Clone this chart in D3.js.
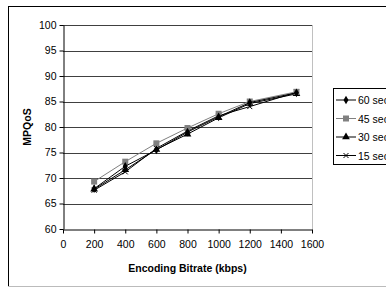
<!DOCTYPE html>
<html>
<head>
<meta charset="utf-8">
<script src="https://cdn.jsdelivr.net/npm/d3@7"></script>
<style>
  body { margin: 0; background: #fff; }
  svg { display: block; font-family: "Liberation Sans", Arial, sans-serif; }
</style>
</head>
<body>
<svg id="chart" width="386" height="289"></svg>
<script>
const bitrates = [200, 400, 600, 800, 1000, 1200, 1500];
const seriesNames = ["60 sec", "45 sec", "30 sec", "15 sec"];
const sec60 = [67.9, 72.3, 75.5, 79.0, 82.0, 84.8, 86.7];
const sec45 = [69.3, 73.2, 76.8, 79.8, 82.6, 85.0, 86.9];
const sec30 = [67.8, 71.6, 75.6, 78.6, 81.8, 84.6, 86.5];
const sec15 = [67.6, 71.2, 75.8, 79.2, 82.2, 84.0, 86.8];
const xTicks = [0, 200, 400, 600, 800, 1000, 1200, 1400, 1600];
const yTicks = [60, 65, 70, 75, 80, 85, 90, 95, 100];

const series = [
  {name: seriesNames[0], vals: sec60, color: "#000", marker: "diamond"},
  {name: seriesNames[1], vals: sec45, color: "#808080", marker: "square"},
  {name: seriesNames[2], vals: sec30, color: "#000", marker: "triangle"},
  {name: seriesNames[3], vals: sec15, color: "#000", marker: "cross"}
];

const svg = d3.select("#chart");
const L = 63, R = 312, T = 25, B = 229;

// outer chart border
svg.append("line").attr("x1", 8.5).attr("x2", 8.5).attr("y1", 6).attr("y2", 287).attr("stroke", "#000");
svg.append("line").attr("x1", 8).attr("x2", 386).attr("y1", 6.5).attr("y2", 6.5).attr("stroke", "#000");
svg.append("line").attr("x1", 8).attr("x2", 386).attr("y1", 286.5).attr("y2", 286.5).attr("stroke", "#bbb");

const x = d3.scaleLinear().domain([0, 1600]).range([L, R]);
const y = d3.scaleLinear().domain([60, 100]).range([B, T]);

// grid
svg.append("g").selectAll("line").data(yTicks.slice(1)).join("line")
  .attr("x1", L).attr("x2", R)
  .attr("y1", d => Math.round(y(d)) + 0.5).attr("y2", d => Math.round(y(d)) + 0.5)
  .attr("stroke", "#404040");
// plot area right edge
svg.append("line").attr("x1", R + 0.5).attr("x2", R + 0.5).attr("y1", T).attr("y2", B)
  .attr("stroke", "#c0c0c0");

const yAxis = svg.append("g").attr("transform", `translate(${L + 0.5},0)`)
  .call(d3.axisLeft(y).tickValues(yTicks).tickSize(4).tickSizeOuter(0).tickPadding(3));
const xAxis = svg.append("g").attr("transform", `translate(0,${B + 0.5})`)
  .call(d3.axisBottom(x).tickValues(xTicks).tickFormat(d3.format("d"))
    .tickSize(4).tickSizeOuter(0).tickPadding(7));
[yAxis, xAxis].forEach(a => {
  a.selectAll("text").attr("font-size", 10.5).attr("fill", "#000")
    .attr("font-family", "Liberation Sans, Arial, sans-serif");
  a.selectAll("line, path").attr("stroke", "#000");
});

// axis titles
svg.append("text").attr("x", (L + R) / 2).attr("y", 272).attr("text-anchor", "middle")
  .attr("font-size", 10.5).attr("font-weight", "bold").text("Encoding Bitrate (kbps)");
svg.append("text").attr("transform", `translate(31,${(T + B) / 2}) rotate(-90)`)
  .attr("text-anchor", "middle").attr("font-size", 10.5).attr("font-weight", "bold").text("MPQoS");

function drawMarker(g, type, color) {
  if (type === "diamond") g.append("path").attr("d", d3.symbol(d3.symbolDiamond, 22)()).attr("fill", color);
  else if (type === "square") g.append("rect").attr("x", -3).attr("y", -3).attr("width", 6).attr("height", 6).attr("fill", color);
  else if (type === "triangle") g.append("path").attr("d", d3.symbol(d3.symbolTriangle, 26)()).attr("fill", color);
  else g.append("path").attr("d", "M-2.5,-2.5L2.5,2.5M-2.5,2.5L2.5,-2.5").attr("stroke", color).attr("stroke-width", 1);
}

const line = d3.line().x((d, i) => x(bitrates[i])).y(d => y(d));
series.slice().reverse().forEach(s => {
  svg.append("path").attr("d", line(s.vals)).attr("fill", "none")
    .attr("stroke", s.color).attr("stroke-width", 1);
  s.vals.forEach((v, i) => {
    const g = svg.append("g").attr("transform", `translate(${x(bitrates[i])},${y(v)})`);
    drawMarker(g, s.marker, s.color);
  });
});

// legend (clipped by the right edge, as in the original)
const leg = svg.append("g");
leg.append("rect").attr("x", 333.5).attr("y", 88.5).attr("width", 70).attr("height", 76)
  .attr("fill", "#fff").attr("stroke", "#000");
series.forEach((s, i) => {
  const ly = 100 + i * 18.5;
  leg.append("line").attr("x1", 336).attr("x2", 356).attr("y1", ly).attr("y2", ly)
    .attr("stroke", s.color);
  const g = leg.append("g").attr("transform", `translate(346,${ly})`);
  drawMarker(g, s.marker, s.color);
  leg.append("text").attr("x", 358).attr("y", ly + 4).attr("font-size", 10.5).text(s.name);
});
</script>
</body>
</html>
